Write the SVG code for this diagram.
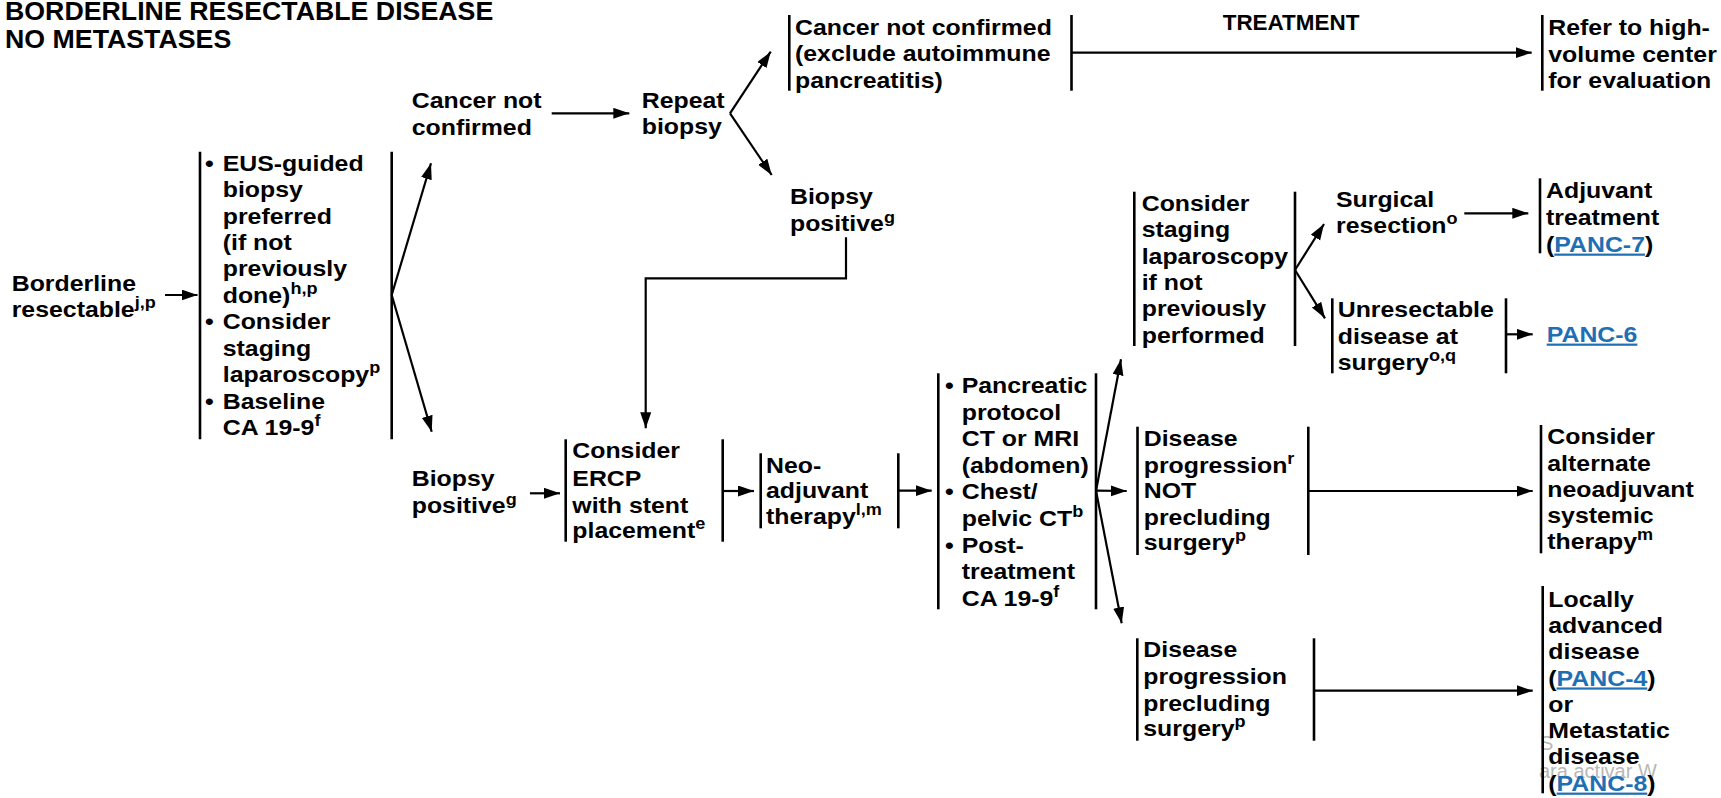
<svg xmlns="http://www.w3.org/2000/svg" width="1721" height="798" viewBox="0 0 1721 798">
  <defs>
    <style>
      .t { font-family: "Liberation Sans", Arial, sans-serif; font-weight: bold; font-size: 22px; fill: #000; }
      .title { font-size: 25px; }
      .sup { font-size: 16px; }
      .lnk { fill: #1f6fb4; text-decoration: underline; }
      .bar { stroke: #000; stroke-width: 2.6; fill: none; }
      .ln { stroke: #000; stroke-width: 2.2; fill: none; }
      .arr { marker-end: url(#ah); }
      .wm { font-family: "Liberation Sans", Arial, sans-serif; font-size: 20px; fill: #b8b8b8; }
    </style>
    <marker id="ah" markerUnits="userSpaceOnUse" markerWidth="17" markerHeight="12" refX="16" refY="5.5" orient="auto">
      <path d="M0,0 L16,5.5 L0,11 z" fill="#000"/>
    </marker>
  </defs>

  <rect width="1721" height="798" fill="#fff"/>

  <!-- faint overlay lettering, bottom right -->
  <g id="overlay">
    <text class="wm" x="1540" y="750" font-size="18">S</text>
    <text class="wm" x="1539" y="778">ara activar W</text>
  </g>

  <!-- heading -->
  <g id="heading">
    <text class="t title" transform="translate(5 19.5) scale(1.07 1)">
      <tspan x="0" y="0">BORDERLINE RESECTABLE DISEASE</tspan>
      <tspan x="0" y="29">NO METASTASES</tspan>
    </text>
    <text class="t" transform="translate(1222.7 30) scale(1.02 1)">TREATMENT</text>
  </g>

  <!-- connectors -->
  <g id="connectors">
    <line class="ln arr" x1="165" y1="295" x2="197.5" y2="295"/>
    <line class="ln arr" x1="391.7" y1="295" x2="431" y2="163.3"/>
    <line class="ln arr" x1="391.7" y1="295" x2="431.7" y2="431.7"/>
    <line class="ln arr" x1="551.7" y1="113.3" x2="629.3" y2="113.3"/>
    <line class="ln arr" x1="730" y1="113.3" x2="770.7" y2="51.7"/>
    <line class="ln arr" x1="730" y1="113.3" x2="771.7" y2="175"/>
    <line class="ln arr" x1="1071.5" y1="52.7" x2="1531.7" y2="52.7"/>
    <path class="ln arr" d="M846,237.3 V278.3 H645.7 V428.3"/>
    <line class="ln arr" x1="530" y1="493.3" x2="560" y2="493.3"/>
    <line class="ln arr" x1="722.7" y1="491" x2="754" y2="491"/>
    <line class="ln arr" x1="898.3" y1="490.7" x2="931.7" y2="490.7"/>
    <line class="ln arr" x1="1096" y1="490.7" x2="1121" y2="359.3"/>
    <line class="ln arr" x1="1096" y1="490.7" x2="1126.7" y2="491"/>
    <line class="ln arr" x1="1096" y1="490.7" x2="1121.7" y2="623.3"/>
    <line class="ln arr" x1="1295" y1="270" x2="1324" y2="224"/>
    <line class="ln arr" x1="1295" y1="270" x2="1325" y2="318.3"/>
    <line class="ln arr" x1="1464.3" y1="213.3" x2="1528.3" y2="213.3"/>
    <line class="ln arr" x1="1506" y1="334.3" x2="1532.7" y2="334.3"/>
    <line class="ln arr" x1="1308.3" y1="491" x2="1532.7" y2="491"/>
    <line class="ln arr" x1="1314" y1="690.7" x2="1532.7" y2="690.7"/>
  </g>

  <g id="n-borderline">
    <text class="t" transform="translate(11.7 290.7) scale(1.13 1)">
      <tspan x="0" y="0">Borderline</tspan>
      <tspan x="0" y="26">resectable</tspan><tspan class="sup" dy="-9">j,p</tspan>
    </text>
  </g>

  <g id="n-workup">
    <line class="bar" x1="200" y1="151.7" x2="200" y2="439.3"/>
    <line class="bar" x1="391.7" y1="151.7" x2="391.7" y2="439.3"/>
    <text class="t" transform="translate(205 170.7) scale(1.13 1)">
      <tspan x="0" y="0">•</tspan><tspan x="15.7" y="0">EUS-guided</tspan>
      <tspan x="15.7" y="26.43">biopsy</tspan>
      <tspan x="15.7" y="52.86">preferred</tspan>
      <tspan x="15.7" y="79.29">(if not</tspan>
      <tspan x="15.7" y="105.72">previously</tspan>
      <tspan x="15.7" y="132.15">done)</tspan><tspan class="sup" dy="-9">h,p</tspan>
      <tspan x="0" y="158.58">•</tspan><tspan x="15.7" y="158.58">Consider</tspan>
      <tspan x="15.7" y="185.01">staging</tspan>
      <tspan x="15.7" y="211.44">laparoscopy</tspan><tspan class="sup" dy="-9">p</tspan>
      <tspan x="0" y="237.87">•</tspan><tspan x="15.7" y="237.87">Baseline</tspan>
      <tspan x="15.7" y="264.3">CA 19-9</tspan><tspan class="sup" dy="-9">f</tspan>
    </text>
  </g>

  <g id="n-not-confirmed">
    <text class="t" transform="translate(411.7 108.3) scale(1.13 1)">
      <tspan x="0" y="0">Cancer not</tspan>
      <tspan x="0" y="26.7">confirmed</tspan>
    </text>
  </g>

  <g id="n-repeat">
    <text class="t" transform="translate(641.7 108) scale(1.13 1)">
      <tspan x="0" y="0">Repeat</tspan>
      <tspan x="0" y="26.5">biopsy</tspan>
    </text>
  </g>

  <g id="n-not-confirmed-2">
    <line class="bar" x1="789.3" y1="15" x2="789.3" y2="90.7"/>
    <line class="bar" x1="1071.5" y1="15" x2="1071.5" y2="90.7"/>
    <text class="t" transform="translate(795 35) scale(1.13 1)">
      <tspan x="0" y="0">Cancer not confirmed</tspan>
      <tspan x="0" y="26.5">(exclude autoimmune</tspan>
      <tspan x="0" y="53">pancreatitis)</tspan>
    </text>
  </g>

  <g id="n-refer">
    <line class="bar" x1="1542.3" y1="15" x2="1542.3" y2="90.7"/>
    <text class="t" transform="translate(1548.3 35) scale(1.13 1)">
      <tspan x="0" y="0">Refer to high-</tspan>
      <tspan x="0" y="26.7">volume center</tspan>
      <tspan x="0" y="53.3">for evaluation</tspan>
    </text>
  </g>

  <g id="n-positive-repeat">
    <text class="t" transform="translate(790 204) scale(1.13 1)">
      <tspan x="0" y="0">Biopsy</tspan>
      <tspan x="0" y="26.7">positive</tspan><tspan class="sup" dy="-8">g</tspan>
    </text>
  </g>

  <g id="n-positive">
    <text class="t" transform="translate(411.7 485.7) scale(1.13 1)">
      <tspan x="0" y="0">Biopsy</tspan>
      <tspan x="0" y="27">positive</tspan><tspan class="sup" dy="-8">g</tspan>
    </text>
  </g>

  <g id="n-ercp">
    <line class="bar" x1="565.7" y1="439.3" x2="565.7" y2="541.7"/>
    <line class="bar" x1="722.7" y1="439.3" x2="722.7" y2="541.7"/>
    <text class="t" transform="translate(572.3 458.3) scale(1.13 1)">
      <tspan x="0" y="0">Consider</tspan>
      <tspan x="0" y="27.7">ERCP</tspan>
      <tspan x="0" y="54.4">with stent</tspan>
      <tspan x="0" y="80">placement</tspan><tspan class="sup" dy="-9">e</tspan>
    </text>
  </g>

  <g id="n-neoadjuvant">
    <line class="bar" x1="760.7" y1="453.3" x2="760.7" y2="528.3"/>
    <line class="bar" x1="898.3" y1="453.3" x2="898.3" y2="528.3"/>
    <text class="t" transform="translate(766 472.7) scale(1.13 1)">
      <tspan x="0" y="0">Neo-</tspan>
      <tspan x="0" y="25.6">adjuvant</tspan>
      <tspan x="0" y="51.3">therapy</tspan><tspan class="sup" dy="-9">l,m</tspan>
    </text>
  </g>

  <g id="n-restaging">
    <line class="bar" x1="938.3" y1="373.3" x2="938.3" y2="609.3"/>
    <line class="bar" x1="1096" y1="373.3" x2="1096" y2="609.3"/>
    <text class="t" transform="translate(945 393.3) scale(1.13 1)">
      <tspan x="0" y="0">•</tspan><tspan x="14.8" y="0">Pancreatic</tspan>
      <tspan x="14.8" y="26.55">protocol</tspan>
      <tspan x="14.8" y="53.1">CT or MRI</tspan>
      <tspan x="14.8" y="79.65">(abdomen)</tspan>
      <tspan x="0" y="106.2">•</tspan><tspan x="14.8" y="106.2">Chest/</tspan>
      <tspan x="14.8" y="132.75">pelvic CT</tspan><tspan class="sup" dy="-9">b</tspan>
      <tspan x="0" y="159.3">•</tspan><tspan x="14.8" y="159.3">Post-</tspan>
      <tspan x="14.8" y="185.85">treatment</tspan>
      <tspan x="14.8" y="212.4">CA 19-9</tspan><tspan class="sup" dy="-9">f</tspan>
    </text>
  </g>

  <g id="n-staging-lap">
    <line class="bar" x1="1134.3" y1="191.7" x2="1134.3" y2="346"/>
    <line class="bar" x1="1295" y1="191.7" x2="1295" y2="346"/>
    <text class="t" transform="translate(1141.7 211) scale(1.13 1)">
      <tspan x="0" y="0">Consider</tspan>
      <tspan x="0" y="26.34">staging</tspan>
      <tspan x="0" y="52.68">laparoscopy</tspan>
      <tspan x="0" y="79.02">if not</tspan>
      <tspan x="0" y="105.36">previously</tspan>
      <tspan x="0" y="131.7">performed</tspan>
    </text>
  </g>

  <g id="n-resection">
    <text class="t" transform="translate(1336 206.7) scale(1.13 1)">
      <tspan x="0" y="0">Surgical</tspan>
      <tspan x="0" y="26.6">resection</tspan><tspan class="sup" dy="-9">o</tspan>
    </text>
  </g>

  <g id="n-adjuvant">
    <line class="bar" x1="1540" y1="178.3" x2="1540" y2="253.3"/>
    <text class="t" transform="translate(1546 198.3) scale(1.13 1)">
      <tspan x="0" y="0">Adjuvant</tspan>
      <tspan x="0" y="26.7">treatment</tspan>
      <tspan x="0" y="53.4">(</tspan><tspan class="lnk">PANC-7</tspan><tspan>)</tspan>
    </text>
  </g>

  <g id="n-unresectable">
    <line class="bar" x1="1332.3" y1="298.3" x2="1332.3" y2="373.3"/>
    <line class="bar" x1="1506" y1="298.3" x2="1506" y2="373.3"/>
    <text class="t" transform="translate(1337.7 317.3) scale(1.13 1)">
      <tspan x="0" y="0">Unresectable</tspan>
      <tspan x="0" y="26.7">disease at</tspan>
      <tspan x="0" y="52.7">surgery</tspan><tspan class="sup" dy="-9">o,q</tspan>
    </text>
  </g>

  <g id="n-panc6">
    <text class="t" transform="translate(1546.7 341.7) scale(1.13 1)"><tspan class="lnk">PANC-6</tspan></text>
  </g>

  <g id="n-progression-not">
    <line class="bar" x1="1137.5" y1="426.7" x2="1137.5" y2="555"/>
    <line class="bar" x1="1308.3" y1="426.7" x2="1308.3" y2="555"/>
    <text class="t" transform="translate(1143.7 446) scale(1.13 1)">
      <tspan x="0" y="0">Disease</tspan>
      <tspan x="0" y="26.7">progression</tspan><tspan class="sup" dy="-9">r</tspan>
      <tspan x="0" y="52.3">NOT</tspan>
      <tspan x="0" y="79">precluding</tspan>
      <tspan x="0" y="104">surgery</tspan><tspan class="sup" dy="-9">p</tspan>
    </text>
  </g>

  <g id="n-alternate">
    <line class="bar" x1="1541" y1="425" x2="1541" y2="553.3"/>
    <text class="t" transform="translate(1547.3 444) scale(1.13 1)">
      <tspan x="0" y="0">Consider</tspan>
      <tspan x="0" y="26.7">alternate</tspan>
      <tspan x="0" y="53.3">neoadjuvant</tspan>
      <tspan x="0" y="79.3">systemic</tspan>
      <tspan x="0" y="105.3">therapy</tspan><tspan class="sup" dy="-9">m</tspan>
    </text>
  </g>

  <g id="n-progression">
    <line class="bar" x1="1137.3" y1="638.3" x2="1137.3" y2="740.7"/>
    <line class="bar" x1="1314" y1="638.3" x2="1314" y2="740.7"/>
    <text class="t" transform="translate(1143.3 657.3) scale(1.13 1)">
      <tspan x="0" y="0">Disease</tspan>
      <tspan x="0" y="26.7">progression</tspan>
      <tspan x="0" y="53.4">precluding</tspan>
      <tspan x="0" y="78.7">surgery</tspan><tspan class="sup" dy="-9">p</tspan>
    </text>
  </g>

  <g id="n-advanced">
    <line class="bar" x1="1542.7" y1="586" x2="1542.7" y2="793.3"/>
    <text class="t" transform="translate(1548.3 606.7) scale(1.13 1)">
      <tspan x="0" y="0">Locally</tspan>
      <tspan x="0" y="26.29">advanced</tspan>
      <tspan x="0" y="52.58">disease</tspan>
      <tspan x="0" y="78.87">(</tspan><tspan class="lnk">PANC-4</tspan><tspan>)</tspan>
      <tspan x="0" y="105.16">or</tspan>
      <tspan x="0" y="131.45">Metastatic</tspan>
      <tspan x="0" y="157.74">disease</tspan>
      <tspan x="0" y="184.03">(</tspan><tspan class="lnk">PANC-8</tspan><tspan>)</tspan>
    </text>
  </g>
</svg>
